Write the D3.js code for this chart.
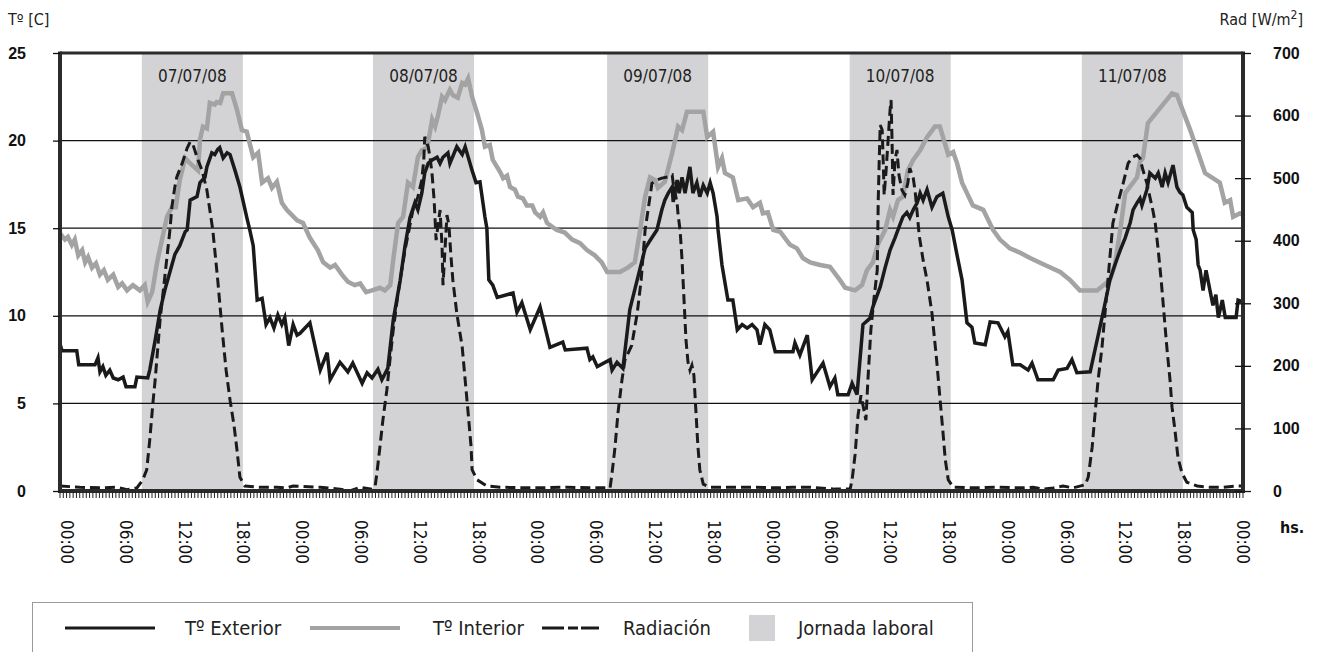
<!DOCTYPE html>
<meta charset="utf-8">
<style>
  body { margin: 0; background: #fff; }
  svg { display: block; font-family: "DejaVu Sans Condensed", "DejaVu Sans", sans-serif; }
  .grid line { stroke: #111; stroke-width: 1.2; }
  .tick-num { font-weight: bold; font-size: 16px; fill: #111; }
  .hour { font-size: 17px; fill: #111; }
  .day { font-size: 17px; fill: #222; }
  .legend text { font-size: 20px; fill: #222; }
</style>
<body>
<div id="chart"></div>
<script src="https://d3js.org/d3.v7.min.js"></script>
<script>
// time = hours since 07/07/08 00:00
const tExterior = [[0,8.4],[0.2,8.0],[1.7,8.0],[1.9,7.2],[3.55,7.2],[3.85,7.6],[4.05,6.8],[4.35,7.1],[4.65,6.6],[5.05,6.9],[5.4,6.45],[5.9,6.35],[6.4,6.5],[6.7,5.95],[7.6,5.95],[7.8,6.5],[8.9,6.45],[9.1,6.9],[9.65,8.6],[10.15,10.3],[10.65,11.5],[11.15,12.5],[11.65,13.5],[12.15,14.0],[12.7,14.8],[12.9,14.9],[13.2,16.6],[13.9,16.8],[14.2,17.6],[14.7,17.9],[14.9,18.5],[15.4,19.3],[15.7,19.2],[16.0,19.5],[16.2,19.6],[16.55,19.0],[16.95,19.3],[17.25,19.2],[17.75,18.3],[18.25,17.35],[18.95,15.6],[19.25,14.9],[19.6,14.0],[20.0,10.9],[20.5,11.0],[20.9,9.5],[21.3,9.9],[21.7,9.3],[22.1,10.05],[22.5,9.5],[22.8,9.9],[23.2,8.3],[23.65,9.5],[24.05,8.9],[24.35,9.0],[25.35,9.6],[26.4,6.9],[27.1,7.9],[27.4,6.35],[28.4,7.35],[29.2,6.8],[29.7,7.3],[30.65,6.15],[31.15,6.75],[31.65,6.45],[32.25,6.95],[32.65,6.35],[33.25,7.0],[33.8,9.75],[34.5,12.0],[35.0,14.0],[35.5,15.6],[36.0,16.45],[36.3,16.05],[36.7,17.0],[37.0,18.15],[37.35,18.7],[37.75,18.9],[38.25,19.05],[38.55,18.7],[38.85,19.05],[39.35,19.3],[39.55,18.7],[40.25,19.65],[40.8,19.2],[41.1,19.65],[41.8,18.3],[42.2,17.6],[42.6,17.65],[42.9,16.45],[43.1,15.65],[43.3,15.0],[43.5,12.05],[43.9,11.75],[44.35,11.05],[45.95,11.3],[46.35,10.2],[46.85,10.75],[47.7,9.2],[48.7,10.5],[49.7,8.2],[51.0,8.5],[51.25,8.05],[53.45,8.15],[53.75,7.5],[54.05,7.65],[54.5,7.1],[55.8,7.5],[56.0,6.9],[56.5,7.35],[57.1,7.0],[57.8,10.35],[58.55,12.05],[59.35,13.85],[59.85,14.3],[60.55,14.9],[61.05,16.05],[61.35,16.6],[61.7,17.0],[62.1,17.35],[62.2,16.5],[62.6,17.75],[62.8,17.0],[63.1,17.9],[63.4,17.0],[63.9,18.5],[64.2,17.0],[64.6,17.6],[64.9,16.8],[65.25,17.45],[65.65,17.0],[65.95,17.6],[66.25,17.0],[66.65,15.65],[66.75,14.9],[67.15,12.9],[67.75,10.9],[68.25,10.9],[68.7,9.2],[69.2,9.5],[69.7,9.3],[70.2,9.5],[70.7,9.2],[71.0,8.35],[71.5,9.5],[72.0,9.2],[72.55,7.95],[74.35,7.95],[74.55,8.45],[75.05,7.75],[75.8,8.9],[76.3,6.35],[77.4,7.3],[78.1,5.95],[78.6,6.45],[78.9,5.5],[79.95,5.5],[80.35,6.15],[80.85,5.5],[81.45,9.5],[82.15,9.85],[82.45,10.5],[83.2,11.65],[83.7,12.75],[84.2,13.75],[84.7,14.45],[85.2,15.2],[85.5,15.65],[85.9,15.9],[86.2,15.6],[86.55,16.05],[86.95,16.45],[87.25,17.0],[87.55,16.6],[87.95,17.2],[88.45,16.2],[88.95,16.8],[89.55,17.0],[90.1,15.65],[90.5,14.9],[91.0,13.45],[91.5,12.05],[92.0,9.6],[92.5,9.35],[92.8,8.45],[93.85,8.35],[94.35,9.65],[95.15,9.6],[95.85,8.8],[96.15,9.1],[96.65,7.2],[97.4,7.2],[98.2,6.9],[98.6,7.3],[99.2,6.35],[100.75,6.35],[101.25,6.9],[102.15,7.0],[102.65,7.5],[103.15,6.75],[104.5,6.8],[105.8,10.15],[106.5,12.05],[107.0,12.9],[107.55,13.75],[108.05,14.45],[108.55,15.3],[108.85,16.05],[109.25,16.45],[109.55,16.7],[109.75,16.3],[110.25,17.2],[110.55,18.15],[111.1,17.85],[111.4,18.15],[111.8,17.35],[112.1,18.15],[112.4,17.6],[112.9,18.6],[113.3,17.35],[113.6,17.05],[113.9,16.9],[114.3,16.2],[114.85,15.9],[114.95,14.9],[115.25,14.35],[115.45,12.9],[115.65,12.6],[115.95,11.45],[116.25,12.6],[116.65,11.45],[116.95,10.6],[117.25,11.2],[117.5,9.9],[117.9,10.9],[118.2,9.9],[119.3,9.9],[119.5,10.9],[120.0,10.8]];

const tInterior = [[0,14.7],[0.5,14.35],[0.8,14.5],[1.2,14.05],[1.5,14.35],[1.85,13.45],[2.25,13.75],[2.55,13.05],[2.85,13.35],[3.25,12.75],[3.65,13.0],[4.05,12.35],[4.45,12.6],[4.85,12.05],[5.4,12.35],[5.9,11.65],[6.3,11.85],[6.8,11.45],[7.4,11.75],[8.1,11.45],[8.6,11.75],[8.9,10.8],[9.35,11.35],[9.85,13.05],[10.35,14.35],[10.85,15.65],[11.35,16.2],[11.75,16.2],[12.15,17.75],[12.7,19.0],[13.2,18.7],[14.0,18.3],[14.2,20.05],[14.5,20.8],[14.9,20.7],[15.2,22.15],[15.7,22.05],[15.9,22.2],[16.25,22.15],[16.55,22.7],[17.45,22.7],[17.95,21.75],[18.45,20.6],[18.95,20.5],[19.6,19.05],[20.1,19.3],[20.5,17.6],[21.1,17.85],[21.5,17.3],[22.0,17.65],[22.5,16.45],[23.0,16.05],[24.05,15.45],[24.65,15.3],[25.35,14.45],[26.15,13.75],[26.7,13.05],[27.4,12.75],[27.9,12.9],[28.6,12.35],[29.2,11.95],[29.9,11.75],[30.45,11.85],[31.05,11.35],[31.65,11.45],[32.45,11.6],[32.95,11.45],[33.5,11.75],[33.8,13.2],[34.3,15.3],[34.8,15.65],[35.3,17.6],[35.8,17.35],[36.3,19.05],[36.7,19.45],[37.25,19.6],[37.75,21.2],[38.05,20.8],[38.35,21.45],[38.75,22.5],[39.05,22.3],[39.55,22.9],[39.85,22.6],[40.35,22.45],[40.8,23.3],[41.1,23.2],[41.4,23.55],[41.8,22.5],[42.3,21.6],[42.8,20.6],[43.1,19.65],[43.6,19.75],[43.9,18.9],[44.65,18.2],[44.95,17.85],[45.35,18.0],[45.65,17.35],[46.15,17.2],[46.45,16.8],[46.95,16.7],[47.35,16.3],[47.9,16.3],[48.2,15.9],[48.7,15.65],[49.0,15.9],[49.4,15.3],[50.0,15.05],[50.4,14.9],[51.2,14.75],[51.95,14.35],[52.75,14.15],[53.45,13.75],[54.25,13.45],[54.95,13.05],[55.5,12.5],[56.8,12.5],[57.6,12.75],[58.3,13.05],[58.85,14.9],[59.35,16.8],[59.85,17.9],[60.35,17.75],[60.65,17.3],[61.35,17.65],[62.1,19.3],[62.7,20.8],[63.1,20.6],[63.6,21.65],[65.25,21.65],[65.65,20.2],[66.25,20.5],[66.75,18.5],[67.15,19.0],[67.45,18.15],[68.25,17.9],[68.8,16.6],[69.7,16.7],[70.3,16.2],[71.0,16.45],[71.3,15.85],[71.8,15.9],[72.35,14.9],[73.05,14.8],[74.05,14.05],[74.75,13.85],[75.35,13.3],[76.1,13.05],[77.1,12.9],[78.1,12.8],[79.1,12.05],[79.65,11.6],[80.65,11.45],[81.35,11.75],[81.85,12.6],[82.45,13.05],[82.95,14.05],[83.7,14.9],[84.2,16.05],[84.5,15.65],[85.0,16.6],[85.5,16.8],[86.0,18.3],[86.55,18.9],[87.25,19.45],[87.95,20.2],[88.75,20.8],[89.25,20.8],[90.1,19.2],[90.6,19.35],[91.0,18.7],[91.5,17.6],[92.6,16.3],[93.65,16.05],[94.65,14.9],[95.35,14.35],[96.35,13.85],[97.4,13.6],[98.4,13.3],[99.9,12.9],[101.45,12.5],[102.45,12.05],[103.45,11.45],[105.2,11.45],[106.5,12.05],[107.0,12.9],[107.55,14.9],[108.05,17.0],[109.25,17.9],[109.55,18.8],[109.85,19.0],[110.35,21.0],[112.8,22.7],[113.3,22.6],[114.65,20.6],[116.15,18.15],[117.65,17.6],[118.15,16.45],[118.7,16.6],[119.0,15.65],[119.7,15.85],[120.0,15.75]];

const radiacion = [[0,8],[2.0,6],[4.05,5],[5.8,6],[6.8,2],[7.8,5],[8.4,18],[8.8,34],[9.1,81],[9.45,145],[9.65,177],[10.15,273],[10.65,345],[11.15,417],[11.35,454],[11.65,486],[11.85,502],[12.4,524],[12.9,548],[13.2,558],[13.5,553],[14.0,529],[14.4,513],[14.9,481],[15.2,449],[15.5,417],[16.0,337],[16.45,257],[16.85,193],[17.25,145],[17.65,105],[17.95,66],[18.25,22],[18.75,8],[20.3,6],[22.0,6],[23.0,5],[23.65,8],[26.4,6],[28.4,3],[29.4,0],[30.45,6],[31.65,3],[31.95,6],[32.15,29],[32.45,70],[32.75,113],[33.15,161],[33.5,214],[33.8,257],[34.2,305],[34.5,337],[35.0,385],[35.5,425],[35.8,449],[36.3,470],[36.7,497],[36.9,529],[37.0,566],[37.35,550],[37.55,532],[37.75,505],[37.95,465],[38.15,401],[38.35,425],[38.55,449],[38.75,393],[38.85,329],[39.05,385],[39.25,441],[39.45,425],[39.65,377],[39.85,337],[40.25,284],[40.8,230],[41.1,177],[41.4,125],[41.7,70],[41.8,34],[42.3,18],[43.3,8],[44.65,6],[48.0,5],[51.45,6],[54.05,5],[55.8,5],[56.0,29],[56.3,70],[56.6,125],[57.0,177],[57.3,209],[58.0,233],[58.55,284],[58.95,337],[59.35,417],[59.65,449],[60.05,492],[60.55,497],[61.05,500],[61.7,502],[62.1,505],[62.2,492],[62.6,460],[62.7,441],[62.9,417],[63.1,369],[63.3,305],[63.5,241],[63.7,206],[63.9,193],[64.1,201],[64.3,185],[64.5,129],[64.7,73],[64.9,34],[65.25,11],[65.95,6],[70.0,6],[73.05,5],[74.35,6],[76.1,6],[78.6,3],[80.15,3],[80.35,18],[80.65,58],[80.95,121],[81.25,153],[81.55,129],[81.75,113],[81.95,177],[82.25,257],[82.55,305],[82.9,353],[83.0,465],[83.1,529],[83.2,585],[83.4,577],[83.5,529],[83.6,473],[83.8,513],[84.0,561],[84.2,609],[84.3,625],[84.4,561],[84.5,473],[84.7,529],[84.9,545],[85.1,505],[85.4,481],[85.7,473],[86.0,492],[86.2,516],[86.55,500],[86.75,478],[86.95,444],[87.15,409],[87.55,369],[87.95,337],[88.45,284],[88.95,205],[89.25,150],[89.55,97],[89.8,50],[90.1,18],[90.6,6],[92.6,5],[95.05,6],[97.4,5],[98.7,6],[99.7,3],[100.75,5],[101.75,8],[102.75,5],[104.0,10],[104.3,22],[104.7,70],[105.0,125],[105.3,177],[105.7,230],[106.0,284],[106.3,337],[106.8,428],[107.3,460],[107.85,492],[108.35,524],[108.85,534],[109.25,537],[109.55,532],[109.85,513],[110.25,492],[110.55,470],[110.85,449],[111.1,428],[111.4,385],[111.7,337],[112.0,281],[112.3,225],[112.6,177],[112.8,134],[113.1,97],[113.4,54],[113.8,29],[114.3,14],[115.35,8],[116.65,6],[118.0,6],[119.4,8],[120.0,8]];

// working hours (start, end), hours since start
const jornada = [[8.3,18.55],[31.75,42.0],[55.5,65.75],[80.1,90.35],[103.65,113.9]];
const dayLabels = ["07/07/08","08/07/08","09/07/08","10/07/08","11/07/08"];
const tempTicks = [0,5,10,15,20,25];
const gridTicks = [5,10,15,20];
const radTicks = [0,100,200,300,400,500,600,700];
const hourTicks = d3.range(0,121,6);
const minorTicks = d3.range(0,120.001,1/3);

const W = 1319, H = 652;
const svg = d3.select("#chart").append("svg").attr("width", W).attr("height", H);

const x = d3.scaleLinear().domain([0,120]).range([60,1243]);
const yL = d3.scaleLinear().domain([0,25]).range([491,53]);
const yR = d3.scaleLinear().domain([0,700]).range([491,53]);

// working-hours bands
svg.append("g").selectAll("rect")
  .data(jornada)
  .join("rect")
  .attr("x", d => x(d[0]))
  .attr("y", yL(25))
  .attr("width", d => x(d[1]) - x(d[0]))
  .attr("height", yL(0) - yL(25))
  .attr("fill", "#d3d3d5");

svg.append("g").selectAll("text")
  .data(jornada)
  .join("text")
  .attr("class", "day")
  .attr("x", d => (x(d[0]) + x(d[1])) / 2)
  .attr("y", 82)
  .attr("text-anchor", "middle")
  .text((d, i) => dayLabels[i]);

// grid
svg.append("g").attr("class", "grid").selectAll("line")
  .data(gridTicks)
  .join("line")
  .attr("x1", x(0)).attr("x2", x(120))
  .attr("y1", d => yL(d)).attr("y2", d => yL(d));

// lines
const lineL = d3.line().x(d => x(d[0])).y(d => yL(d[1]));
const lineR = d3.line().x(d => x(d[0])).y(d => yR(d[1]));

svg.append("path").datum(tInterior)
  .attr("d", lineL).attr("fill", "none")
  .attr("stroke", "#a3a3a3").attr("stroke-width", 4.5);

svg.append("path").datum(tExterior)
  .attr("d", lineL).attr("fill", "none")
  .attr("stroke", "#1a1a1a").attr("stroke-width", 3.5);

svg.append("path").datum(radiacion)
  .attr("d", lineR).attr("fill", "none")
  .attr("stroke", "#1a1a1a").attr("stroke-width", 3)
  .attr("stroke-dasharray", "10,5");

// frame
const frame = svg.append("g").attr("stroke", "#2b2b2b").attr("fill", "none");
frame.append("line").attr("x1", x(0)).attr("x2", x(120)).attr("y1", yL(25)).attr("y2", yL(25)).attr("stroke-width", 3);
frame.append("line").attr("x1", x(0)).attr("x2", x(0)).attr("y1", yL(25) - 1.5).attr("y2", yL(0) + 2).attr("stroke-width", 4);
frame.append("line").attr("x1", x(120)).attr("x2", x(120)).attr("y1", yL(25) - 1.5).attr("y2", yL(0) + 2).attr("stroke-width", 4);
frame.append("line").attr("x1", x(0) - 2).attr("x2", x(120) + 2).attr("y1", yL(0)).attr("y2", yL(0)).attr("stroke-width", 4);

// left axis
const axL = svg.append("g").attr("transform", `translate(${x(0)},0)`)
  .call(d3.axisLeft(yL).tickValues(tempTicks).tickSize(7).tickPadding(27));
axL.select(".domain").remove();
axL.selectAll("line").attr("stroke", "#111").attr("stroke-width", 1.3);
axL.selectAll("text").attr("class", "tick-num").attr("font-family", null).attr("font-size", null);

// right axis
const axR = svg.append("g").attr("transform", `translate(${x(120)},0)`)
  .call(d3.axisRight(yR).tickValues(radTicks).tickSize(8).tickPadding(22));
axR.select(".domain").remove();
axR.selectAll("line").attr("x1", d => d === 700 ? 0 : -8).attr("stroke", "#111").attr("stroke-width", 1.3);
axR.selectAll("text").attr("class", "tick-num").attr("font-family", null).attr("font-size", null);

// bottom minor ticks
svg.append("g").selectAll("line")
  .data(minorTicks)
  .join("line")
  .attr("x1", d => x(d)).attr("x2", d => x(d))
  .attr("y1", yL(0)).attr("y2", yL(0) + 7)
  .attr("stroke", "#222").attr("stroke-width", 1);

// hour labels (rotated)
const labelX = d3.scaleLinear().domain([0,120]).range([x(0) + 7, x(120)]);
svg.append("g").selectAll("text")
  .data(hourTicks)
  .join("text")
  .attr("class", "hour")
  .attr("transform", d => `translate(${labelX(d)},520) rotate(90)`)
  .attr("dy", "0.35em")
  .text(d => String(d % 24).padStart(2, "0") + ":00");

svg.append("text").attr("class", "tick-num")
  .attr("x", 1280).attr("y", 533).text("hs.");

// axis titles
svg.append("text").attr("x", 8).attr("y", 25)
  .attr("font-size", 16).attr("fill", "#222").text("Tº [C]");
const rt = svg.append("text").attr("x", 1303).attr("y", 25)
  .attr("text-anchor", "end").attr("font-size", 16).attr("fill", "#222");
rt.append("tspan").text("Rad [W/m");
rt.append("tspan").attr("dy", -6).attr("font-size", 12).text("2");
rt.append("tspan").attr("dy", 6).text("]");

// legend
const lg = svg.append("g").attr("class", "legend");
lg.append("rect").attr("x", 32.5).attr("y", 602.5).attr("width", 940).attr("height", 70)
  .attr("fill", "none").attr("stroke", "#9a9a9a");
lg.append("line").attr("x1", 65).attr("x2", 155).attr("y1", 628).attr("y2", 628)
  .attr("stroke", "#1a1a1a").attr("stroke-width", 3);
lg.append("text").attr("x", 185).attr("y", 635).text("Tº Exterior");
lg.append("line").attr("x1", 310).attr("x2", 400).attr("y1", 628).attr("y2", 628)
  .attr("stroke", "#a3a3a3").attr("stroke-width", 4);
lg.append("text").attr("x", 433).attr("y", 635).text("Tº Interior");
lg.append("line").attr("x1", 542).attr("x2", 599).attr("y1", 628).attr("y2", 628)
  .attr("stroke", "#1a1a1a").attr("stroke-width", 3).attr("stroke-dasharray", "22,4,10,3");
lg.append("text").attr("x", 623).attr("y", 635).text("Radiación");
lg.append("rect").attr("x", 749).attr("y", 615).attr("width", 26).attr("height", 26).attr("fill", "#d3d3d5");
lg.append("text").attr("x", 798).attr("y", 635).text("Jornada laboral");
</script>
</body>
